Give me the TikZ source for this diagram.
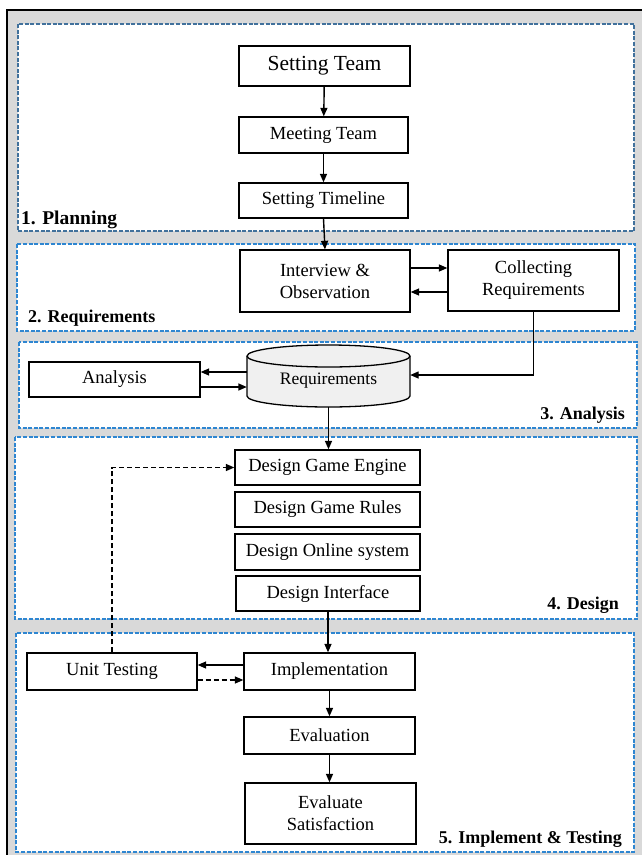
\documentclass[tikz,border=0pt]{standalone}
\usepackage{fontspec}
\setmainfont{Liberation Serif}
\usetikzlibrary{arrows.meta}
\definecolor{framegray}{HTML}{D9D9D9}
\definecolor{secdark}{HTML}{41719C}
\definecolor{secblue}{HTML}{2E86D1}
\definecolor{cylfill}{HTML}{F0F0F0}
\begin{document}
\begin{tikzpicture}[x=1pt,y=-1pt,
  box/.style={draw=black,line width=1.3pt,fill=white,inner sep=0pt,align=center,
    font=\fontsize{18.5}{22}\selectfont},
  arr/.style={line width=1.4pt,-{Triangle[length=8.5pt,width=7pt]}},
  darr/.style={arr,dash pattern=on 5pt off 3pt},
  secbox/.style={draw=secblue,line width=1.1pt,fill=white,dash pattern=on 4pt off 1.6pt},
  seclabel/.style={font=\fontsize{18}{20}\selectfont\bfseries,inner sep=0pt}]
\useasboundingbox (0,0) rectangle (642,855);
\begin{scope}
\clip (0,0) rectangle (642,855);
\draw[line width=2.5pt,fill=framegray] (7,10) rectangle (660,880);
\end{scope}
% sections
\draw[secbox,draw=secdark] (18,24) rectangle (634,231);
\draw[secbox] (17,244) rectangle (635,331);
\draw[secbox] (19,342) rectangle (637,428);
\draw[secbox] (15,437) rectangle (637,619);
\draw[secbox] (16,633) rectangle (634,852);
\node[seclabel,anchor=base west,font=\fontsize{19.5}{20}\selectfont\bfseries] (l1) at (21,224) {1. Planning};
\node[seclabel,anchor=base west] (l2) at (28,322) {2. Requirements};
\node[seclabel,anchor=base east] (l3) at (625,419) {3. Analysis};
\node[seclabel,anchor=base east] (l4) at (619,609) {4. Design};
\node[seclabel,anchor=base east] (l5) at (622,843) {5. Implement \& Testing};
% planning
\node[box,minimum width=171,minimum height=40,font=\fontsize{21.5}{24}\selectfont] (st) at (324.5,66) {Setting Team};
\node[box,minimum width=169,minimum height=36] (mt) at (323.5,135) {Meeting Team};
\node[box,minimum width=169,minimum height=35] (tl) at (323.5,200.5) {Setting Timeline};
% requirements
\node[box,minimum width=170,minimum height=62] (io) at (325,281) {Interview \&\\Observation};
\node[box,minimum width=171,minimum height=61] (cr) at (533.5,280.5) {Collecting\\Requirements};
% analysis
\node[box,minimum width=171,minimum height=35] (an) at (114.5,379.5) {Analysis};
\node[inner sep=0pt,minimum width=163,minimum height=62] (rq) at (328.5,376) {};
\draw[line width=1.3pt,fill=cylfill] (247,356) -- (247,396)
  arc[start angle=180,end angle=0,x radius=81.5,y radius=11] -- (410,356)
  arc[start angle=0,end angle=-180,x radius=81.5,y radius=11] -- cycle;
\draw[line width=1.3pt] (247,356) arc[start angle=180,end angle=0,x radius=81.5,y radius=11];
\node[font=\fontsize{17.5}{22}\selectfont,inner sep=0pt] (rqt) at (328.5,381) {Requirements};
% design
\node[box,minimum width=185,minimum height=35] (dge) at (327.5,467.5) {Design Game Engine};
\node[box,minimum width=185,minimum height=35] (dgr) at (327.5,509.5) {Design Game Rules};
\node[box,minimum width=185,minimum height=36] (dos) at (327.5,552) {Design Online system};
\node[box,minimum width=184,minimum height=35] (di) at (328,593.5) {Design Interface};
% implement
\node[box,minimum width=170,minimum height=37] (ut) at (112,671.5) {Unit Testing};
\node[box,minimum width=171,minimum height=37] (im) at (329.5,671.5) {Implementation};
\node[box,minimum width=171,minimum height=37] (ev) at (329.5,735.5) {Evaluation};
\node[box,minimum width=171,minimum height=61] (es) at (330.5,813.5) {Evaluate\\Satisfaction};
% connectors
\draw[arr] (st) -- (mt);
\draw[arr] (mt) -- (tl);
\draw[arr] (tl.south) -- (io.north);
\draw[arr] (io.east |- 0,268) -- (cr.west |- 0,268);
\draw[arr] (cr.west |- 0,292) -- (io.east |- 0,292);
\draw[arr] (cr.south) |- (rq.east |- 0,375);
\draw[arr] (rq.west |- 0,372) -- (an.east |- 0,372);
\draw[arr] (an.east |- 0,387) -- (rq.west |- 0,387);
\draw[arr] (rq.south) -- (dge.north -| rq.south);
\draw[arr] (di.south) -- (im.north -| di.south);
\draw[arr] (im.west |- 0,665) -- (ut.east |- 0,665);
\draw[darr] (ut.east |- 0,680) -- (im.west |- 0,680);
\draw[darr] (ut.north) |- (dge.west);
\draw[arr] (im) -- (ev);
\draw[arr] (ev.south) -- (es.north -| ev.south);
\end{tikzpicture}
\end{document}
